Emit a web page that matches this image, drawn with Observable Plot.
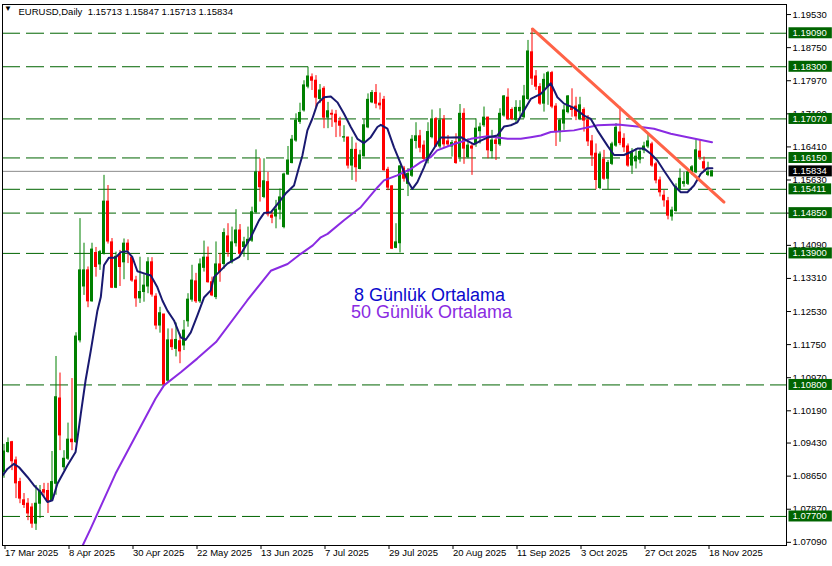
<!DOCTYPE html>
<html><head><meta charset="utf-8">
<script src="https://cdn.jsdelivr.net/npm/d3@7"></script>
<script src="https://cdn.jsdelivr.net/npm/@observablehq/plot@0.6"></script>
<style>body{margin:0;background:#fff} svg{display:block}</style>
</head><body><div id="chart"></div>
<script>
const opens=[1.0874,1.0922,1.0945,1.0902,1.0851,1.0808,1.0800,1.0791,1.0753,1.0800,1.0832,1.0830,1.0807,1.0847,1.1048,1.0886,1.0906,1.0951,1.0945,1.1185,1.1312,1.1350,1.1277,1.1391,1.1364,1.1389,1.1512,1.1416,1.1309,1.1387,1.1369,1.1413,1.1380,1.1326,1.1284,1.1299,1.1312,1.1369,1.1288,1.1220,1.1246,1.1090,1.1185,1.1165,1.1183,1.1173,1.1230,1.1281,1.1324,1.1277,1.1356,1.1380,1.1322,1.1287,1.1364,1.1365,1.1430,1.1369,1.1414,1.1444,1.1405,1.1414,1.1420,1.1487,1.1581,1.1523,1.1558,1.1479,1.1477,1.1493,1.1452,1.1576,1.1603,1.1656,1.1700,1.1727,1.1783,1.1805,1.1797,1.1754,1.1778,1.1710,1.1719,1.1717,1.1701,1.1663,1.1663,1.1597,1.1634,1.1589,1.1619,1.1687,1.1746,1.1768,1.1743,1.1752,1.1587,1.1548,1.1403,1.1414,1.1590,1.1554,1.1573,1.1655,1.1666,1.1644,1.1609,1.1664,1.1706,1.1642,1.1705,1.1654,1.1642,1.1652,1.1617,1.1719,1.1617,1.1642,1.1648,1.1678,1.1692,1.1710,1.1631,1.1656,1.1647,1.1715,1.1757,1.1728,1.1705,1.1725,1.1711,1.1754,1.1864,1.1807,1.1782,1.1743,1.1782,1.1815,1.1736,1.1676,1.1696,1.1723,1.1733,1.1736,1.1707,1.1728,1.1703,1.1654,1.1625,1.1544,1.1611,1.1566,1.1601,1.1644,1.1675,1.1660,1.1642,1.1597,1.1607,1.1611,1.1633,1.1642,1.1647,1.1600,1.1562,1.1526,1.1513,1.1477,1.1490,1.1542,1.1554,1.1554,1.1581,1.1581,1.1630,1.1605,1.1575,1.15713];
const highs=[1.0940,1.0955,1.0947,1.0910,1.0860,1.0824,1.0812,1.0800,1.0843,1.0843,1.0848,1.0848,1.0923,1.1147,1.1108,1.0925,1.0990,1.1095,1.1203,1.1472,1.1414,1.1358,1.1414,1.1404,1.1397,1.1574,1.1550,1.1425,1.1393,1.1397,1.1424,1.1422,1.1383,1.1336,1.1381,1.1340,1.1380,1.1380,1.1295,1.1263,1.1246,1.1212,1.1212,1.1226,1.1200,1.1232,1.1295,1.1362,1.1343,1.1377,1.1419,1.1405,1.1334,1.1417,1.1389,1.1448,1.1460,1.1452,1.1493,1.1458,1.1428,1.1452,1.1499,1.1634,1.1613,1.1613,1.1581,1.1491,1.1515,1.1542,1.1579,1.1642,1.1668,1.1719,1.1744,1.1797,1.1829,1.1813,1.1809,1.1788,1.1783,1.1746,1.1728,1.1727,1.1711,1.1691,1.1664,1.1664,1.1650,1.1633,1.1705,1.1766,1.1774,1.1788,1.1768,1.1760,1.1593,1.1550,1.1460,1.1597,1.1595,1.1590,1.1668,1.1698,1.1680,1.1655,1.1698,1.1728,1.1710,1.1731,1.1715,1.1668,1.1656,1.1672,1.1741,1.1731,1.1660,1.1648,1.1707,1.1697,1.1735,1.1711,1.1680,1.1668,1.1731,1.1762,1.1778,1.1733,1.1750,1.1750,1.1786,1.1892,1.1919,1.1821,1.1790,1.1813,1.1819,1.1819,1.1743,1.1707,1.1739,1.1762,1.1778,1.1758,1.1758,1.1733,1.1715,1.1668,1.1648,1.1629,1.1633,1.1609,1.1652,1.1696,1.1735,1.1672,1.1648,1.1637,1.1637,1.1637,1.1652,1.1672,1.1652,1.1605,1.1570,1.1538,1.1522,1.1499,1.1554,1.1589,1.1581,1.1587,1.1597,1.1658,1.1656,1.1617,1.1605,1.15847];
const lows=[1.0860,1.0919,1.0878,1.0812,1.0800,1.0789,1.0760,1.0742,1.0737,1.0765,1.0815,1.0777,1.0805,1.0820,1.0925,1.0878,1.0902,1.0925,1.0942,1.1179,1.1291,1.1262,1.1275,1.1334,1.1350,1.1386,1.1412,1.1307,1.1307,1.1312,1.1328,1.1366,1.1322,1.1263,1.1272,1.1275,1.1295,1.1287,1.1210,1.1202,1.1079,1.1086,1.1161,1.1146,1.1130,1.1161,1.1216,1.1275,1.1272,1.1272,1.1346,1.1320,1.1288,1.1281,1.1322,1.1353,1.1381,1.1365,1.1405,1.1381,1.1381,1.1373,1.1416,1.1483,1.1511,1.1519,1.1476,1.1460,1.1448,1.1469,1.1448,1.1574,1.1601,1.1652,1.1694,1.1723,1.1778,1.1774,1.1734,1.1743,1.1684,1.1684,1.1687,1.1663,1.1664,1.1652,1.1589,1.1562,1.1558,1.1587,1.1617,1.1684,1.1743,1.1731,1.1728,1.1584,1.1538,1.1399,1.1401,1.1391,1.1558,1.1524,1.1569,1.1636,1.1627,1.1609,1.1601,1.1660,1.1640,1.1637,1.1640,1.1640,1.1617,1.1600,1.1605,1.1600,1.1613,1.1574,1.1640,1.1648,1.1687,1.1613,1.1613,1.1609,1.1642,1.1711,1.1703,1.1703,1.1696,1.1711,1.1707,1.1750,1.1786,1.1774,1.1739,1.1723,1.1739,1.1731,1.1642,1.1652,1.1680,1.1719,1.1711,1.1703,1.1703,1.1676,1.1642,1.1595,1.1540,1.1540,1.1562,1.1540,1.1597,1.1640,1.1644,1.1628,1.1593,1.1576,1.1589,1.1601,1.1625,1.1637,1.1593,1.1554,1.1523,1.1499,1.1469,1.1466,1.1487,1.1538,1.1546,1.1550,1.1574,1.1578,1.1609,1.1585,1.1571,1.15713];
const closes=[1.0923,1.0943,1.0900,1.0848,1.0812,1.0797,1.0777,1.0753,1.0800,1.0830,1.0826,1.0804,1.0851,1.1051,1.0961,1.0906,1.0951,1.0945,1.1194,1.1350,1.1350,1.1277,1.1399,1.1358,1.1393,1.1512,1.1418,1.1309,1.1382,1.1358,1.1413,1.1397,1.1326,1.1284,1.1299,1.1314,1.1369,1.1293,1.1220,1.1249,1.1081,1.1185,1.1169,1.1186,1.1159,1.1208,1.1281,1.1326,1.1277,1.1364,1.1380,1.1322,1.1291,1.1364,1.1346,1.1438,1.1393,1.1416,1.1444,1.1389,1.1416,1.1422,1.1487,1.1581,1.1546,1.1560,1.1482,1.1474,1.1493,1.1522,1.1576,1.1609,1.1658,1.1703,1.1721,1.1786,1.1807,1.1797,1.1757,1.1774,1.1710,1.1725,1.1717,1.1699,1.1691,1.1664,1.1597,1.1634,1.1593,1.1621,1.1692,1.1752,1.1768,1.1743,1.1739,1.1586,1.1545,1.1401,1.1416,1.1595,1.1566,1.1577,1.1658,1.1666,1.1639,1.1613,1.1676,1.1706,1.1642,1.1703,1.1647,1.1647,1.1650,1.1603,1.1719,1.1637,1.1644,1.1637,1.1684,1.1687,1.1710,1.1633,1.1656,1.1648,1.1719,1.1760,1.1707,1.1707,1.1733,1.1733,1.1760,1.1866,1.1802,1.1783,1.1743,1.1799,1.1815,1.1736,1.1676,1.1703,1.1727,1.1760,1.1728,1.1713,1.1739,1.1703,1.1654,1.1621,1.1563,1.1623,1.1566,1.1603,1.1647,1.1686,1.1650,1.1640,1.1597,1.1629,1.1618,1.1629,1.1642,1.1654,1.1597,1.1562,1.1534,1.1515,1.1479,1.1491,1.1546,1.1566,1.1558,1.1581,1.1593,1.1633,1.1617,1.1590,1.1581,1.15834];

const ma8Bars=[-0.3,0.85,2.5,3.75,5.85,7.5,9.2,10.85,12.1,13.35,15.85,17.9,19.2,20.4,21.7,23.35,24.2,25,26.25,27.9,29.2,30.85,32.1,33.35,35,36.7,38.35,39.6,40.85,42.5,44.2,45.4,46.7,48.35,50,51.7,52.5,55.85,58.75,61.7,63.75,65,66.7,68.75,70.4,72.5,73.75,74.6,75.85,77.1,78.35,80,81.7,83.35,85,86.7,88.35,90,91.7,93.35,94.2,95.85,97.5,99.2,100.85,102.1,103.35,105,105.85,107,109.2,111.7,114.2,115.85,117.5,119.2,120.85,123.35,125,126.7,128.35,130,131.7,134.2,136.7,138.35,140,142.5,145,146.7,148.35,150.85,152.5,155,156.7,158.35,160,161.7,163.35,165,167.5,169.2,170.85,172.5,174.2,175.85,177.1];
const ma8Vals=[1.0867,1.0882,1.0894,1.0886,1.0863,1.0843,1.0827,1.0804,1.0808,1.0847,1.0890,1.0922,1.1012,1.1091,1.1161,1.1255,1.1287,1.1362,1.1380,1.1380,1.1393,1.1395,1.1381,1.1348,1.1343,1.1338,1.1310,1.1279,1.1255,1.1232,1.1192,1.1186,1.1204,1.1244,1.1286,1.1303,1.1334,1.1366,1.1381,1.1428,1.1468,1.1485,1.1487,1.1511,1.1531,1.1550,1.1593,1.1621,1.1680,1.1708,1.1743,1.1758,1.1760,1.1746,1.1719,1.1688,1.1660,1.1650,1.1664,1.1688,1.1693,1.1684,1.1640,1.1601,1.1562,1.1542,1.1558,1.1593,1.1613,1.1630,1.1663,1.1663,1.1664,1.1655,1.1647,1.1656,1.1663,1.1668,1.1689,1.1692,1.1699,1.1727,1.1754,1.1766,1.1791,1.1758,1.1743,1.1733,1.1715,1.1707,1.1680,1.1644,1.1622,1.1622,1.1629,1.1637,1.1637,1.1625,1.1609,1.1585,1.1550,1.1534,1.1534,1.1550,1.1578,1.1591,1.1591];

const ma50Bars=[19.7,21.7,27.9,37.9,40,44.2,48.3,53,60.8,66.7,70.9,74.2,77.2,79.2,80.9,85,89.2,93.4,95,98.3,101.7,104.2,106.7,108.3,112.5,116.7,120.9,125.9,129.2,131.7,134.2,136.7,142.5,148.4,153.4,158.3,162.5,166.7,170.9,177];
const ma50Vals=[1.0702,1.0742,1.0871,1.1048,1.1079,1.1110,1.1142,1.1181,1.1279,1.1349,1.1365,1.1389,1.1409,1.1428,1.1436,1.1468,1.1499,1.1546,1.1562,1.1574,1.1589,1.1605,1.1617,1.1633,1.1648,1.1660,1.1666,1.1660,1.1660,1.1664,1.1668,1.1676,1.1680,1.1692,1.1694,1.1689,1.1684,1.1672,1.1664,1.1652];

const trendBars=[132.1,180];
const trendVals=[1.1919,1.1511];

const levels=[1.19090,1.18300,1.17070,1.16150,1.15411,1.14850,1.13900,1.10800,1.07700];
const priceTicks=[1.19530,1.18750,1.17970,1.17190,1.16410,1.15630,1.14850,1.14090,1.13310,1.12530,1.11750,1.10970,1.10190,1.09430,1.08650,1.07870,1.07090];
const dateTickBars=[0,16,32,48,64,80,96,112,128,144,160,176];
const dateTickLabels=["17 Mar 2025","8 Apr 2025","30 Apr 2025","22 May 2025","13 Jun 2025","7 Jul 2025","29 Jul 2025","20 Aug 2025","11 Sep 2025","3 Oct 2025","27 Oct 2025","18 Nov 2025"];
const headerText="EURUSD,Daily  1.15713 1.15847 1.15713 1.15834";
const legend8="8 Günlük Ortalama";
const legend50="50 Günlük Ortalama";

const candles=opens.map((o,i)=>({i,o,h:highs[i],l:lows[i],c:closes[i],col:closes[i]>=o?"#008000":"#ff0000"}));
const last=closes[closes.length-1];

const LVL_TXT="#fffffe", CUR_TXT="#fefefe";

const chart=Plot.plot({
  width:832,height:566,
  marginLeft:2,marginRight:46,marginTop:4,marginBottom:21,
  style:{fontFamily:"'Liberation Sans', Arial, sans-serif",fontSize:"9.5px",background:"#fff",color:"#000",overflow:"visible"},
  x:{type:"linear",domain:[-0.375,195.625],axis:null},
  y:{domain:[1.07015,1.19767],axis:null},
  marks:[
    Plot.ruleY(levels,{stroke:"#006400",strokeDasharray:"18,6"}),
    Plot.ruleY([last],{stroke:"#8c8c8c"}),
    Plot.ruleX(candles,{x:"i",y1:"l",y2:"h",stroke:"col"}),
    Plot.rect(candles,{x1:d=>d.i-0.375,x2:d=>d.i+0.375,y1:d=>Math.min(d.o,d.c),y2:d=>Math.max(d.o,d.c),fill:"col",insetTop:-0.5,insetBottom:-0.5}),
    Plot.line(ma50Vals,{x:ma50Bars,y:ma50Vals,stroke:"#8A2BE2",strokeWidth:2,clip:true}),
    Plot.line(ma8Vals,{x:ma8Bars,y:ma8Vals,stroke:"#191970",strokeWidth:2,clip:true}),
    Plot.line(trendVals,{x:trendBars,y:trendVals,stroke:"#FF6347",strokeWidth:3}),
    Plot.frame({stroke:"#000"}),
    Plot.axisY(priceTicks,{anchor:"right",tickSize:4,tickPadding:2,tickFormat:d=>d.toFixed(5),label:null}),
    Plot.axisX(dateTickBars,{anchor:"bottom",tickSize:4,tickPadding:0,tickFormat:d=>dateTickLabels[dateTickBars.indexOf(d)],textAnchor:"start",dx:1,label:null}),
    Plot.text(levels,{y:d=>d,frameAnchor:"right",dx:6,textAnchor:"start",lineAnchor:"middle",text:d=>d.toFixed(5),fill:LVL_TXT}),
    Plot.text([last],{y:d=>d,frameAnchor:"right",dx:6,textAnchor:"start",lineAnchor:"middle",text:d=>d.toFixed(5),fill:CUR_TXT}),
    Plot.text(["▼"],{frameAnchor:"top-left",dx:5.5,dy:3.5,lineAnchor:"middle",textAnchor:"middle",fontSize:8,text:d=>d}),
    Plot.text([headerText],{frameAnchor:"top-left",dx:16,dy:7,lineAnchor:"middle",textAnchor:"start",text:d=>d}),
    Plot.text([legend8],{frameAnchor:"top-left",dx:427,dy:291,lineAnchor:"middle",textAnchor:"middle",fontSize:18,fill:"#0A0ACD",text:d=>d}),
    Plot.text([legend50],{frameAnchor:"top-left",dx:429,dy:308,lineAnchor:"middle",textAnchor:"middle",fontSize:18,fill:"#8A2BE2",text:d=>d})
  ]
});
document.getElementById("chart").append(chart);

function addBoxes(txtFill,color){
  d3.select(chart).selectAll("text").each(function(){
    const t=this;
    const f=(t.getAttribute("fill")||(t.parentNode&&t.parentNode.getAttribute("fill"))||"").toLowerCase();
    if(f!==txtFill) return;
    const b=t.getBBox();
    const cy=b.y+b.height/2;
    d3.select(t.parentNode).insert("rect",()=>t)
      .attr("x",b.x-4).attr("y",cy-5.5).attr("width",b.width+9).attr("height",11)
      .attr("fill",color).attr("stroke","none").attr("transform",t.getAttribute("transform"));
  });
}
addBoxes(LVL_TXT,"#006400");
addBoxes(CUR_TXT,"#000");
</script>
</body></html>
